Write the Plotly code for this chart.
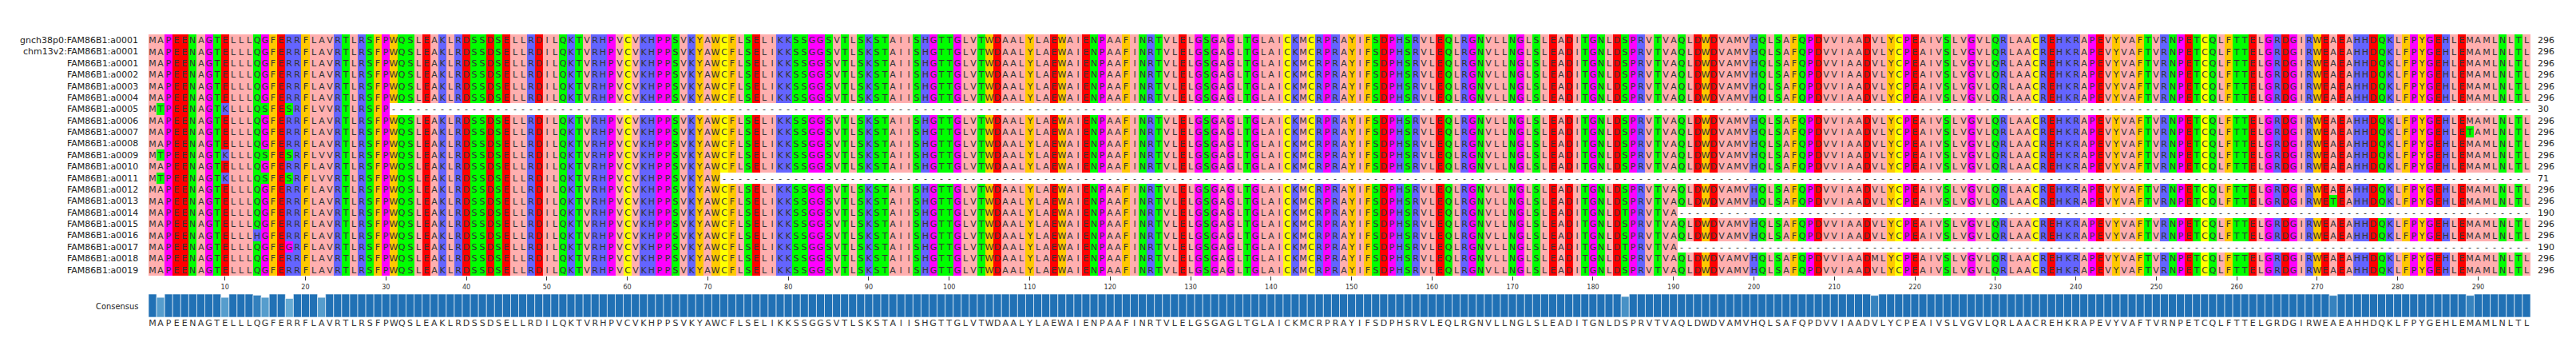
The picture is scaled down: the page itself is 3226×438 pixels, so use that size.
import plotly.graph_objects as go

consensus = ("MAPEENAGTELLLQGFERRFLAVRTLRSFPWQSLEAKLRDSSDSELLRDILQKTV"
             "RHPVCVKHPPSVKYAWCFLSELIKKSSGGSVTLSKSTAIISHGTTGLVTWDAAL"
             "YLAEWAIENPAAFINRTVLELGSGAGLTGLAICKMCRPRAYIFSDPHSRVLEQLR"
             "GNVLLNGLSLEADITGNLDSPRVTVAQLDWDVAMVHQLSAFQPDVVIAADVLYC"
             "PEAIVSLVGVLQRLAACREHKRAPEVYVAFTVRNPETCQLFTTELGRDGIRWEAE"
             "AHHDQKLFPYGEHLEMAMLNLTL")

names = ["gnch38p0:FAM86B1:a0001", "chm13v2:FAM86B1:a0001"] + \
        ["FAM86B1:a%04d" % i for i in range(1, 20)]
lengths = [296, 296, 296, 296, 296, 296, 30, 296, 296, 296, 296, 296, 71,
           296, 296, 190, 296, 296, 190, 296, 296]
# (row, motif in consensus, offset in motif, new residue)
variants = [
    (6, "MAP", 1, "T"), (6, "TELL", 1, "K"), (6, "QGF", 1, "S"), (6, "ERRF", 1, "S"), (6, "FLAV", 2, "V"),
    (10, "MAP", 1, "T"), (10, "TELL", 1, "K"), (10, "QGF", 1, "S"), (10, "ERRF", 1, "S"), (10, "FLAV", 2, "V"),
    (12, "MAP", 1, "T"), (12, "TELL", 1, "K"), (12, "QGF", 1, "S"), (12, "ERRF", 1, "S"), (12, "FLAV", 2, "V"),
    (17, "LLLQG", 3, "H"), (18, "ERRF", 1, "G"),
    (8, "EMAML", 1, "T"), (14, "EAEAHH", 1, "T"),
    (15, "LDSPRV", 2, "T"), (18, "LDSPRV", 2, "T"), (19, "AADVLY", 3, "M"),
]

N = len(consensus)
seqs = []
for ln in lengths:
    s = list(consensus[:ln]) + ["-"] * (N - ln)
    seqs.append(s)
for r, motif, off, aa in variants:
    p = consensus.find(motif) + off
    if seqs[r][p] != "-":
        seqs[r][p] = aa

groups = {"-": 0}
for ch in "ILVAM": groups[ch] = 1
for ch in "FWY": groups[ch] = 2
for ch in "KRH": groups[ch] = 3
for ch in "DE": groups[ch] = 4
for ch in "STNQ": groups[ch] = 5
for ch in "PG": groups[ch] = 6
groups["C"] = 7
cols = ["#ffffff", "#ffafaf", "#ffc800", "#6464ff", "#ff0000", "#00ff00", "#ff00ff", "#ffff00"]
cs = []
for i, c in enumerate(cols):
    cs.append([i / 8, c]); cs.append([(i + 1) / 8, c])

z = [[groups.get(ch, 1) for ch in s] for s in seqs]
xs = list(range(1, N + 1))
cons_frac = []
for i in range(N):
    res = [s[i] for s in seqs if s[i] != "-"]
    cons_frac.append(sum(1 for c in res if c == consensus[i]) / len(res))

fig = go.Figure()
fig.add_trace(go.Heatmap(z=z, x=xs, y=list(range(len(seqs))), text=seqs, texttemplate="%{text}",
                         textfont=dict(size=11, color="#333333", family="DejaVu Sans"),
                         colorscale=cs, zmin=-0.5, zmax=7.5, showscale=False, hoverinfo="skip"))
fig.add_trace(go.Bar(x=xs, y=cons_frac, xaxis="x2", yaxis="y2", width=1.0,
                     marker=dict(color=cons_frac, colorscale=[[0, "#c6dbef"], [0.5, "#6baed6"], [1, "#2171b5"]],
                                 cmin=0.6, cmax=1, line=dict(color="#ffffff", width=0.6)),
                     hoverinfo="skip"))
fig.add_trace(go.Scatter(x=xs, y=[0] * N, xaxis="x2", yaxis="y3", mode="text", text=list(consensus),
                         textfont=dict(size=11, color="#333333", family="DejaVu Sans"), hoverinfo="skip"))

dom = [178 / 3226, 3161 / 3226]
H = 438
fig.update_layout(
    width=3226, height=438, margin=dict(l=0, r=0, t=0, b=0), showlegend=False,
    plot_bgcolor="white", paper_bgcolor="white",
    xaxis=dict(domain=dom, range=[0.5, N + 0.5], tickvals=list(range(10, N + 1, 10)), ticks="outside",
               ticklen=5, tickcolor="#333", showgrid=False, zeroline=False, showline=False,
               tickfont=dict(size=9, color="#333", family="DejaVu Sans Condensed")),
    yaxis=dict(domain=[1 - 337 / H, 1 - 35 / H], range=[len(seqs) - 0.5, -0.5], visible=False),
    xaxis2=dict(domain=dom, range=[0.5, N + 0.5], anchor="y2", visible=False),
    yaxis2=dict(domain=[1 - 389 / H, 1 - 360 / H], range=[0, 1], visible=False),
    yaxis3=dict(domain=[1 - 404 / H, 1 - 390 / H], range=[-1, 1], visible=False),
)
ann = []
for i, n in enumerate(names):
    yc = 1 - (42.5 + i * 14.375) / H
    ann.append(dict(x=167 / 3226, y=yc, xref="paper", yref="paper", text=n, showarrow=False,
                    xanchor="right", yanchor="middle", font=dict(size=11, color="#222", family="DejaVu Sans")))
    ann.append(dict(x=3168 / 3226, y=yc, xref="paper", yref="paper", text=str(lengths[i]), showarrow=False,
                    xanchor="left", yanchor="middle", font=dict(size=11, color="#222", family="DejaVu Sans")))
ann.append(dict(x=167 / 3226, y=1 - 375 / H, xref="paper", yref="paper", text="Consensus", showarrow=False,
                xanchor="right", yanchor="middle", font=dict(size=11, color="#222", family="DejaVu Sans Condensed")))
fig.update_layout(annotations=ann)
fig.write_html("out.html")
